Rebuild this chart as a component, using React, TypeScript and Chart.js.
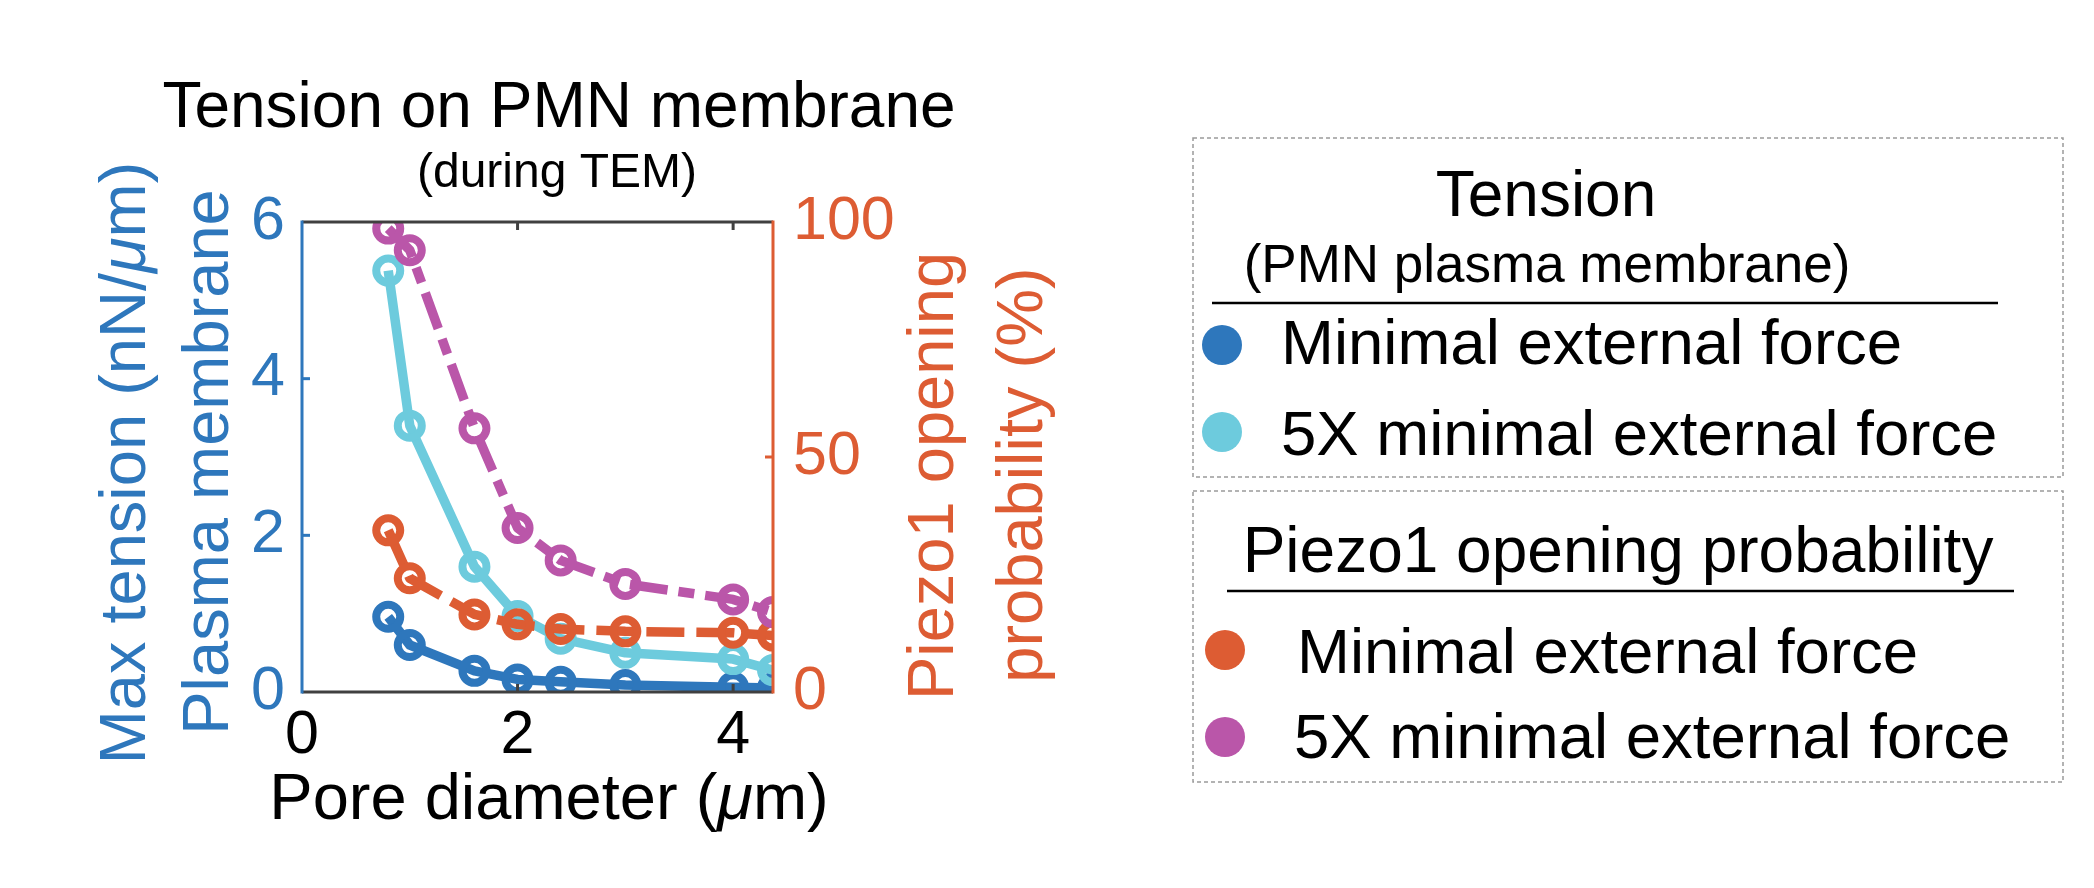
import React, { useEffect, useRef } from 'react';
import { Chart, registerables, ChartConfiguration, Plugin } from 'chart.js';

Chart.register(...registerables);

// values
const poreDiameter = [0.8, 1.0, 1.6, 2.0, 2.4, 3.0, 4.0, 4.37];
const tensionMinimal = [0.96, 0.6, 0.27, 0.16, 0.13, 0.09, 0.06, 0.05];
const tension5x = [5.38, 3.4, 1.6, 0.97, 0.68, 0.5, 0.42, 0.28];
const piezoMinimal = [34.4, 24.2, 16.5, 14.4, 13.4, 12.9, 12.6, 12.0];
const piezo5x = [98.6, 94.0, 56.1, 34.9, 28.0, 23.0, 19.7, 17.0];

const seriesLabels = [
    'Minimal external force',
    '5X minimal external force',
    'Minimal external force',
    '5X minimal external force',
];

const xTicks = [0, 2, 4];
const tensionTicks = [0, 2, 4, 6];
const piezoTicks = [0, 50, 100];

const chartTitle = 'Tension on PMN membrane';
const chartSubtitle = '(during TEM)';
const xTitle = 'Pore diameter (μm)';
const leftTitle = ['Max tension (nN/μm)', 'Plasma membrane'];
const rightTitle = ['Piezo1 opening', 'probability (%)'];
const tensionGroup = ['Tension', '(PMN plasma membrane)'];
const piezoGroup = ['Piezo1 opening probability'];

const FONT = "'Liberation Sans', Arial, Helvetica, sans-serif";
const BLUE = '#2E77BC';
const CYAN = '#6DCBDD';
const ORANGE = '#DD5C33';
const MAGENTA = '#BA56A9';
const FRAME = '#404040';

const W = 2094;
const H = 888;
const PLOT = { left: 302, right: 773, top: 222, bottom: 692 };

const fontStr = (size: number, italic = false) => `${italic ? 'italic ' : ''}${size}px ${FONT}`;

// draws text with the greek mu in italics, like the tex interpreter does
function drawLabel(ctx: CanvasRenderingContext2D, text: string, x: number, y: number, size: number, color: string, align: 'left' | 'center' = 'center') {
    const parts = text.split(/(μ)/).filter(Boolean);
    ctx.save();
    ctx.fillStyle = color;
    ctx.textBaseline = 'alphabetic';
    ctx.textAlign = 'left';
    const widths = parts.map(p => {
        ctx.font = fontStr(size, p === 'μ');
        return ctx.measureText(p).width;
    });
    const total = widths.reduce((a, b) => a + b, 0);
    let cx = align === 'center' ? x - total / 2 : x;
    parts.forEach((p, i) => {
        ctx.font = fontStr(size, p === 'μ');
        ctx.fillText(p, cx, y);
        cx += widths[i];
    });
    ctx.restore();
}

function drawRotated(ctx: CanvasRenderingContext2D, text: string, baseX: number, centerY: number, size: number, color: string) {
    ctx.save();
    ctx.translate(baseX, centerY);
    ctx.rotate(-Math.PI / 2);
    drawLabel(ctx, text, 0, 0, size, color);
    ctx.restore();
}

function line(ctx: CanvasRenderingContext2D, x0: number, y0: number, x1: number, y1: number) {
    ctx.beginPath();
    ctx.moveTo(x0, y0);
    ctx.lineTo(x1, y1);
    ctx.stroke();
}

const decorPlugin: Plugin = {
    id: 'decor',
    afterDatasetsDraw(chart) {
        const { ctx, chartArea: a } = chart;
        const xs = chart.scales.x;
        const ys = chart.scales.y;
        const y1s = chart.scales.y1;
        ctx.save();
        ctx.lineWidth = 3;
        ctx.lineCap = 'butt';
        // frame
        ctx.strokeStyle = FRAME;
        line(ctx, a.left, a.top, a.right, a.top);
        line(ctx, a.left, a.bottom, a.right, a.bottom);
        ctx.strokeStyle = BLUE;
        line(ctx, a.left, a.top - 1.5, a.left, a.bottom + 1.5);
        ctx.strokeStyle = ORANGE;
        line(ctx, a.right, a.top - 1.5, a.right, a.bottom + 1.5);
        // inward ticks
        const len = 8;
        ctx.strokeStyle = FRAME;
        xs.ticks.forEach(t => {
            const px = xs.getPixelForValue(t.value);
            if (px <= a.left + 2 || px >= a.right - 2) return;
            line(ctx, px, a.top, px, a.top + len);
            line(ctx, px, a.bottom, px, a.bottom - len);
        });
        ctx.strokeStyle = BLUE;
        ys.ticks.forEach(t => {
            const py = ys.getPixelForValue(t.value);
            if (py <= a.top + 2 || py >= a.bottom - 2) return;
            line(ctx, a.left, py, a.left + len, py);
        });
        ctx.strokeStyle = ORANGE;
        y1s.ticks.forEach(t => {
            const py = y1s.getPixelForValue(t.value);
            if (py <= a.top + 2 || py >= a.bottom - 2) return;
            line(ctx, a.right, py, a.right - len, py);
        });
        ctx.restore();
    },
    afterDraw(chart) {
        const { ctx } = chart;
        const ds = chart.data.datasets;

        // titles
        drawLabel(ctx, chartTitle, 559, 127, 64, '#000');
        drawLabel(ctx, chartSubtitle, 557, 187, 48, '#000');
        drawLabel(ctx, xTitle, 549, 819, 65, '#000');
        drawRotated(ctx, leftTitle[0], 145, 463, 65, BLUE);
        drawRotated(ctx, leftTitle[1], 228, 462, 65, BLUE);
        drawRotated(ctx, rightTitle[0], 953, 476, 65, ORANGE);
        drawRotated(ctx, rightTitle[1], 1042, 475, 65, ORANGE);

        // legend boxes
        ctx.save();
        ctx.strokeStyle = '#9a9a9a';
        ctx.lineWidth = 1.5;
        ctx.setLineDash([4, 3]);
        ctx.strokeRect(1193, 138, 870, 339);
        ctx.strokeRect(1193, 491, 870, 291);
        ctx.restore();

        drawLabel(ctx, tensionGroup[0], 1546, 216, 64, '#000');
        drawLabel(ctx, tensionGroup[1], 1547, 282, 53, '#000');
        drawLabel(ctx, piezoGroup[0], 1618, 572, 64, '#000');

        ctx.save();
        ctx.strokeStyle = '#000';
        ctx.lineWidth = 2.5;
        line(ctx, 1212, 303, 1998, 303);
        line(ctx, 1227, 591, 2014, 591);
        ctx.restore();

        const entries = [
            { i: 0, mx: 1222, my: 345, tx: 1281, ty: 364 },
            { i: 1, mx: 1222, my: 432, tx: 1281, ty: 455 },
            { i: 2, mx: 1225, my: 650, tx: 1297, ty: 673 },
            { i: 3, mx: 1225, my: 737, tx: 1294, ty: 758 },
        ];
        entries.forEach(e => {
            const d = ds[e.i];
            ctx.save();
            ctx.fillStyle = d.borderColor as string;
            ctx.beginPath();
            ctx.arc(e.mx, e.my, 20, 0, Math.PI * 2);
            ctx.fill();
            ctx.restore();
            drawLabel(ctx, d.label as string, e.tx, e.ty, 63.5, '#000', 'left');
        });
    },
};

const lineStyle = {
    borderWidth: 9.5,
    pointRadius: 12,
    pointBorderWidth: 8,
    pointBackgroundColor: 'rgba(0,0,0,0)',
    borderJoinStyle: 'round' as const,
    fill: false,
    tension: 0,
    clip: 0,
};

const toPoints = (ys: number[]) => poreDiameter.map((x, i) => ({ x, y: ys[i] }));

const App: React.FC = () => {
    const chartRef = useRef<HTMLCanvasElement>(null);
    const chartInstanceRef = useRef<Chart | null>(null);

    useEffect(() => {
        if (!chartRef.current) return;
        const ctx = chartRef.current.getContext('2d');
        if (!ctx) return;
        if (chartInstanceRef.current) chartInstanceRef.current.destroy();

        Chart.defaults.font.family = FONT;

        const config: ChartConfiguration = {
            type: 'line',
            data: {
                datasets: [
                    { ...lineStyle, label: seriesLabels[0], data: toPoints(tensionMinimal), yAxisID: 'y', borderColor: BLUE, pointBorderColor: BLUE, order: 3 },
                    { ...lineStyle, label: seriesLabels[1], data: toPoints(tension5x), yAxisID: 'y', borderColor: CYAN, pointBorderColor: CYAN, order: 2 },
                    { ...lineStyle, label: seriesLabels[2], data: toPoints(piezoMinimal), yAxisID: 'y1', borderColor: ORANGE, pointBorderColor: ORANGE, borderDash: [38, 12], order: 1 },
                    { ...lineStyle, label: seriesLabels[3], data: toPoints(piezo5x), yAxisID: 'y1', borderColor: MAGENTA, pointBorderColor: MAGENTA, borderDash: [38, 11, 16, 11], order: 0 },
                ],
            },
            options: {
                animation: false,
                responsive: true,
                maintainAspectRatio: false,
                layout: { padding: { top: PLOT.top, left: 0, right: 0, bottom: 0 } },
                plugins: {
                    legend: { display: false },
                    tooltip: { enabled: false },
                    title: { display: false },
                },
                scales: {
                    x: {
                        type: 'linear',
                        min: 0,
                        max: 4.37,
                        afterBuildTicks: s => { s.ticks = xTicks.map(v => ({ value: v })); },
                        afterFit: s => { s.height = H - PLOT.bottom; },
                        grid: { display: false, drawTicks: false },
                        border: { display: false },
                        ticks: { color: '#000', font: { size: 61 }, padding: 8, maxRotation: 0 },
                    },
                    y: {
                        type: 'linear',
                        position: 'left',
                        min: 0,
                        max: 6,
                        afterBuildTicks: s => { s.ticks = tensionTicks.map(v => ({ value: v })); },
                        afterFit: s => { s.width = PLOT.left; },
                        grid: { display: false, drawTicks: false },
                        border: { display: false },
                        ticks: { color: BLUE, font: { size: 61 }, padding: 17 },
                    },
                    y1: {
                        type: 'linear',
                        position: 'right',
                        min: 0,
                        max: 100,
                        afterBuildTicks: s => { s.ticks = piezoTicks.map(v => ({ value: v })); },
                        afterFit: s => { s.width = W - PLOT.right; },
                        grid: { display: false, drawTicks: false },
                        border: { display: false },
                        ticks: { color: ORANGE, font: { size: 61 }, padding: 20 },
                    },
                },
            },
            plugins: [decorPlugin],
        };

        chartInstanceRef.current = new Chart(ctx, config);

        return () => {
            if (chartInstanceRef.current) {
                chartInstanceRef.current.destroy();
                chartInstanceRef.current = null;
            }
        };
    }, []);

    return (
        <div style={{ position: 'fixed', left: 0, top: 0, width: W, height: H, background: '#fff' }}>
            <canvas ref={chartRef}></canvas>
        </div>
    );
};

export default App;
